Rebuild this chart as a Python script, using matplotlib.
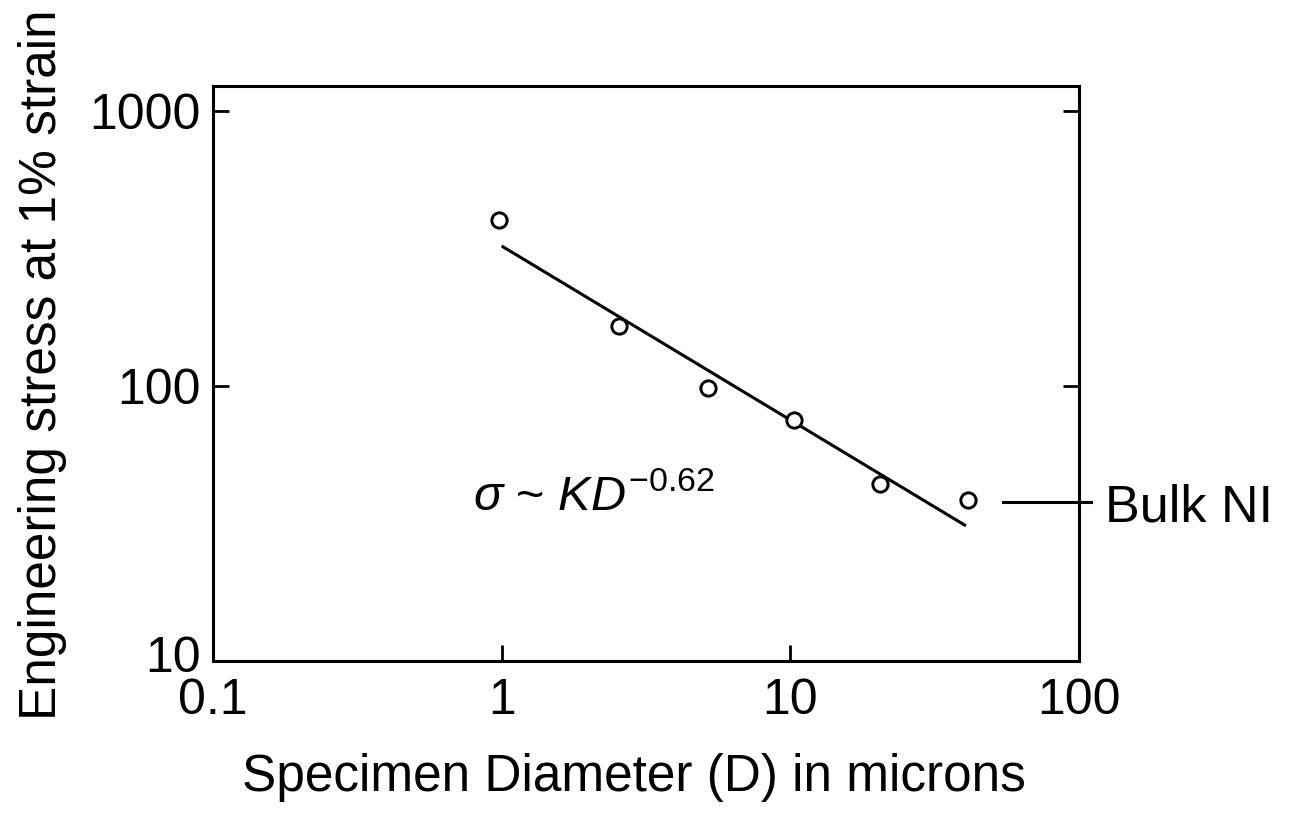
import matplotlib
matplotlib.use("Agg")
import matplotlib.pyplot as plt
from matplotlib.ticker import FixedLocator, NullLocator, FixedFormatter
from matplotlib.transforms import ScaledTranslation

plt.rcParams['font.family'] = ['Liberation Sans', 'DejaVu Sans']
plt.rcParams['mathtext.fontset'] = 'custom'
plt.rcParams['mathtext.rm'] = 'Liberation Sans'
plt.rcParams['mathtext.it'] = 'Liberation Sans:italic'

# ---- data ----
diameter = [0.98, 2.55, 5.19, 10.3, 20.4, 41.3]      # microns
stress = [402, 165, 98.4, 75.2, 44.0, 38.5]          # engineering stress at 1% strain
fit_x = [1.0, 40.6]
fit_y = [323, 31.0]
bulk_ni = 37.8
x_ticks = [0.1, 1, 10, 100]
x_ticklabels = ['0.1', '1', '10', '100']
y_ticks = [10, 100, 1000]
y_ticklabels = ['10', '100', '1000']

TFS = 36
LFS = 37

fig = plt.figure(figsize=(12.97, 8.22), dpi=100)
ax = fig.add_axes([0.1642, 0.1959, 0.6677, 0.6995])
ax.set_xscale('log')
ax.set_yscale('log')
ax.set_xlim(0.1, 100)
ax.set_ylim(10, 1233)

ax.plot(fit_x, fit_y, color='black', lw=2.2, solid_capstyle='butt')
ax.plot(diameter, stress, linestyle='none', marker='o', markersize=11,
        markerfacecolor='white', markeredgecolor='black', markeredgewidth=2.1)

ax.xaxis.set_major_locator(FixedLocator(x_ticks))
ax.xaxis.set_major_formatter(FixedFormatter(x_ticklabels))
ax.yaxis.set_major_locator(FixedLocator(y_ticks))
ax.yaxis.set_major_formatter(FixedFormatter(y_ticklabels))
ax.xaxis.set_minor_locator(NullLocator())
ax.yaxis.set_minor_locator(NullLocator())

ax.tick_params(axis='both', which='major', direction='in', length=11.5, width=2.0,
               labelsize=TFS, color='black')
ax.tick_params(axis='x', pad=12, top=False)
ax.tick_params(axis='y', pad=9, right=True)
for s in ax.spines.values():
    s.set_linewidth(2.2)
    s.set_color('black')

ax.set_xlabel('Specimen Diameter (D) in microns', fontsize=LFS)
ax.xaxis.set_label_coords(0.486, -0.160)
ax.xaxis.label.set_va('top')
ax.set_ylabel('Engineering stress at 1% strain', fontsize=LFS)
ax.yaxis.set_label_coords(-0.168, 0.515)

# equation annotation
ax.text(0.300, 0.263, r'$\sigma$ ~ $KD^{-0.62}$', transform=ax.transAxes,
        fontsize=35, ha='left', va='baseline')

# Bulk Ni marker line and label
ytr = ax.get_yaxis_transform()
ax.plot([0.912, 1.014], [bulk_ni, bulk_ni], color='black', lw=2.2,
        transform=ytr, clip_on=False)
ax.text(1.0296, bulk_ni, 'Bulk NI', transform=ytr, fontsize=37.5,
        ha='left', va='center_baseline')

# lift the bottom "10" label slightly, as in the reference
lbl = ax.yaxis.get_major_ticks()[0].label1
lbl.set_transform(lbl.get_transform() + ScaledTranslation(0, 7 / 100, fig.dpi_scale_trans))

fig.savefig('out.png', dpi=100, facecolor='white')
